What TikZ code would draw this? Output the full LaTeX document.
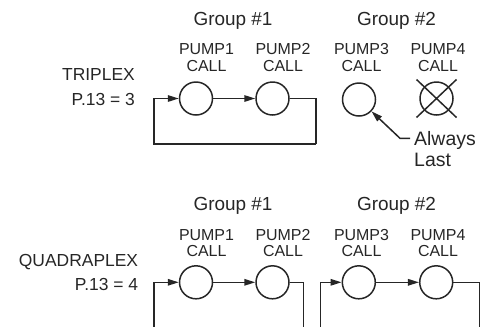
\documentclass[tikz,border=0pt]{standalone}
\usepackage{fontspec}
\setmainfont{Liberation Sans}
\usetikzlibrary{arrows.meta}
\begin{document}
\begin{tikzpicture}[x=1bp,y=-1bp,
  pumpc/.style={circle,draw=black!85,line width=1.5bp,minimum size=33bp,inner sep=0pt},
  grp/.style={font=\fontsize{19}{21}\selectfont,text=black!85,inner sep=0pt,anchor=base},
  plab/.style={font=\fontsize{16}{16.7}\selectfont,text=black!85,inner sep=0pt,anchor=north,align=center},
  mode/.style={font=\fontsize{17.5}{20}\selectfont,text=black!85,inner sep=0pt,anchor=base east},
  wire/.style={draw=black!85,line width=1.5bp},
  arr/.style={wire,-{Triangle[length=11bp,width=6.5bp]}}
]
\useasboundingbox (0,0) rectangle (487,326);

% ---------- TRIPLEX ----------
\node[grp] (g1t) at (233,25) {Group \#1};
\node[grp] (g2t) at (396.5,25) {Group \#2};
\node[plab] (l1t) at (206.5,43.3) {PUMP1\\CALL};
\node[plab] (l2t) at (283,43.3) {PUMP2\\CALL};
\node[plab] (l3t) at (361.5,43.3) {PUMP3\\CALL};
\node[plab] (l4t) at (438,43.3) {PUMP4\\CALL};
\node[mode] (trip) at (135,80.7) {TRIPLEX};
\node[mode] (p3) at (135,105.7) {P.13 = 3};

\node[pumpc] (c1t) at (196,98.5) {};
\node[pumpc] (c2t) at (272.5,98.5) {};
\node[pumpc] (c3t) at (359,99.5) {};
\node[pumpc] (c4t) at (436.5,98.5) {};
\draw[wire] ([shift={(-20,-19)}]c4t.center) -- ([shift={(20,19)}]c4t.center);
\draw[wire] ([shift={(20,-19)}]c4t.center) -- ([shift={(-20,19)}]c4t.center);

\coordinate (tl) at (154,98.5);
\coordinate (tbl) at (154,144);
\coordinate (tbr) at (316,144);
\coordinate (tr) at (316,98.5);
\draw[arr] (tbr) -- (tbl) -- (tl) -- (c1t);
\draw[arr] (c1t) -- (c2t);
\draw[wire] (c2t) -- (tr) -- (tbr);

\node[font=\fontsize{19.5}{20.7}\selectfont,text=black!85,inner sep=0pt,anchor=north west,align=left] (alw) at (414,131.2) {Always\\Last};
\coordinate (ldA) at (410,138.3);
\coordinate (ldB) at (400,138.3);
\draw[arr] (ldA) -- (ldB) -- (c3t);

% ---------- QUADRAPLEX ----------
\node[grp] (g1b) at (233,210) {Group \#1};
\node[grp] (g2b) at (396.5,210) {Group \#2};
\node[plab] (l1b) at (206.5,229) {PUMP1\\CALL};
\node[plab] (l2b) at (283,229) {PUMP2\\CALL};
\node[plab] (l3b) at (361.5,229) {PUMP3\\CALL};
\node[plab] (l4b) at (438,229) {PUMP4\\CALL};
\node[mode] (quad) at (138.3,266.7) {QUADRAPLEX};
\node[mode] (p4) at (138.3,290.7) {P.13 = 4};

\node[pumpc] (c1b) at (196,282.3) {};
\node[pumpc] (c2b) at (272.5,282.3) {};
\node[pumpc] (c3b) at (358.8,282.3) {};
\node[pumpc] (c4b) at (436.2,282.3) {};

\coordinate (b1s) at (154,327);
\coordinate (b1l) at (154,282.3);
\coordinate (b1r) at (303.3,282.3);
\coordinate (b1e) at (303.3,327);
\coordinate (b2s) at (320.7,327);
\coordinate (b2l) at (320.7,282.3);
\coordinate (b2r) at (479.3,282.3);
\coordinate (b2e) at (479.3,327);
\draw[arr] (b1s) -- (b1l) -- (c1b);
\draw[arr] (c1b) -- (c2b);
\draw[wire] (c2b) -- (b1r) -- (b1e);
\draw[arr] (b2s) -- (b2l) -- (c3b);
\draw[arr] (c3b) -- (c4b);
\draw[wire] (c4b) -- (b2r) -- (b2e);
\end{tikzpicture}
\end{document}
